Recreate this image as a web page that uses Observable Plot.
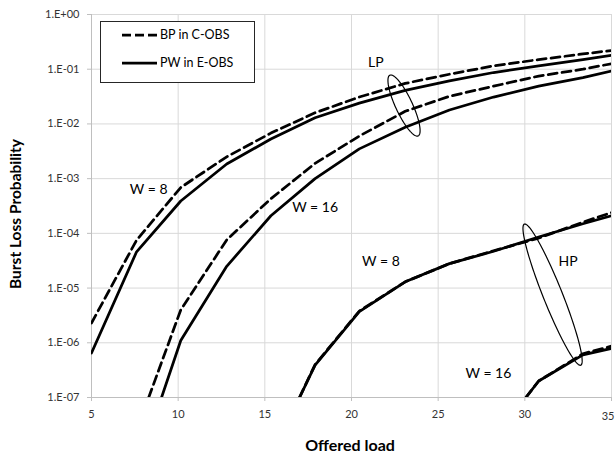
<!DOCTYPE html>
<html><head><meta charset="utf-8">
<script src="https://cdn.jsdelivr.net/npm/d3@7"></script>
<script src="https://cdn.jsdelivr.net/npm/@observablehq/plot@0.6"></script>
<style>
body{margin:0;background:#fff;}
[aria-label^="x-axis"] text,[aria-label^="y-axis"] text{fill:#333;}
[aria-label^="x-axis"] path,[aria-label^="y-axis"] path,[aria-label^="x-axis"] line,[aria-label^="y-axis"] line{stroke:#bfbfbf;}
</style>
</head><body><div id="chart"></div>
<script>
// ---- data ----
const xTicks = [5, 10, 15, 20, 25, 30, 35];
const yTicks = [1e0, 1e-1, 1e-2, 1e-3, 1e-4, 1e-5, 1e-6, 1e-7];

const loadLP8 = [5, 7.6, 10.15, 12.8, 15.35, 17.9, 20.45, 23.1, 25.65, 28.2, 30.8, 33.35, 35];
const bpLP8 = [2.3e-6, 7.5e-5, 6.9e-4, 2.5e-3, 6.8e-3, 0.016, 0.031, 0.055, 0.081, 0.115, 0.15, 0.19, 0.22];
const pwLP8 = [6.5e-7, 4.6e-5, 3.9e-4, 1.85e-3, 5.3e-3, 0.013, 0.024, 0.041, 0.061, 0.087, 0.115, 0.15, 0.18];

const loadBpLP16 = [8.3, 10.15, 12.8, 15.35, 17.9, 20.45, 23.1, 25.65, 28.2, 30.8, 33.35, 35];
const bpLP16 = [1e-7, 4e-6, 7.6e-5, 4.3e-4, 1.9e-3, 6e-3, 0.017, 0.032, 0.049, 0.075, 0.1, 0.126];
const loadPwLP16 = [9.04, 10.15, 12.8, 15.35, 17.9, 20.45, 23.1, 25.65, 28.2, 30.8, 33.35, 35];
const pwLP16 = [1e-7, 1.1e-6, 2.5e-5, 2.1e-4, 1.0e-3, 3.5e-3, 8.7e-3, 0.018, 0.031, 0.049, 0.07, 0.093];

const loadHP8 = [17.0, 17.9, 20.45, 23.1, 25.65, 28.2, 30.8, 33.35, 35];
const bpHP8 = [1e-7, 4.0e-7, 3.8e-6, 1.3e-5, 2.8e-5, 4.8e-5, 8.2e-5, 1.6e-4, 2.4e-4];
const pwHP8 = [1e-7, 3.9e-7, 3.7e-6, 1.3e-5, 2.8e-5, 4.7e-5, 8.6e-5, 1.5e-4, 2.1e-4];

const loadHP16 = [30.06, 30.8, 33.35, 35];
const bpHP16 = [1e-7, 2.0e-7, 6.3e-7, 8.7e-7];
const pwHP16 = [1e-7, 2.0e-7, 6.0e-7, 7.9e-7];

const legendNames = ["BP in C-OBS", "PW in E-OBS"];
const annoText = ["LP", "W = 8", "W = 16", "W = 8", "HP", "W = 16"];
const annoX = [21.4, 8.3, 17.9, 21.7, 32.5, 27.9];
const annoY = [0.132, 6.3e-4, 2.95e-4, 3.1e-5, 3.1e-5, 2.7e-7];

// group ellipses (centre in data units, axes in pixels, tilt in degrees)
const ellipseX = [23.03, 31.6];
const ellipseLogY = [-1.664, -5.12];
const ellipseA = [33.5, 76];
const ellipseB = [8.4, 9.6];
const ellipseTilt = [25, 21.8];

// ---- layout ----
const W = 615, H = 455, mL = 91, mR = 4, mT = 14, mB = 58;
const kx = (W - mL - mR) / (35 - 5);
const ky = (H - mT - mB) / 7;

function series(xs, ys) { return xs.map((x, i) => ({x, y: ys[i]})); }
function ellipse(i) {
  const th = ellipseTilt[i] * Math.PI / 180, pts = [];
  for (let k = 0; k <= 120; k++) {
    const t = k / 120 * 2 * Math.PI;
    const u = ellipseA[i] * Math.cos(t), v = ellipseB[i] * Math.sin(t);
    const dx = u * Math.sin(th) + v * Math.cos(th);
    const dy = u * Math.cos(th) - v * Math.sin(th);
    pts.push({x: ellipseX[i] + dx / kx, y: Math.pow(10, ellipseLogY[i] - dy / ky)});
  }
  return pts;
}
const fmt = d => { const e = Math.round(Math.log10(d)); return "1.E" + (e < 0 ? "-" : "+") + String(Math.abs(e)).padStart(2, "0"); };
const lastX = xTicks[xTicks.length - 1];

const dashed = {x: "x", y: "y", stroke: "#000", strokeWidth: 2.75, strokeDasharray: "9,5", clip: true};
const solid = {x: "x", y: "y", stroke: "#000", strokeWidth: 2.75, clip: true};
const anno = annoText.map((t, i) => ({t, x: annoX[i], y: annoY[i]}));

const plot = Plot.plot({
  width: W, height: H, marginLeft: mL, marginRight: mR, marginTop: mT, marginBottom: mB,
  style: {fontFamily: "Lato, 'Open Sans', sans-serif", fontSize: "11px", background: "#fff", overflow: "visible"},
  x: {domain: [5, 35], ticks: xTicks, tickSize: 4, tickPadding: 9, label: null, tickFormat: d => d === lastX ? "" : String(d)},
  y: {type: "log", domain: [1e-7, 1], ticks: yTicks, tickFormat: fmt, tickSize: 4, tickPadding: 8, label: null},
  marks: [
    Plot.ruleX(xTicks, {stroke: "#d9d9d9", strokeWidth: 1}),
    Plot.ruleY(yTicks, {stroke: "#d9d9d9", strokeWidth: 1}),
    Plot.ruleX([5], {stroke: "#bfbfbf"}),
    Plot.ruleY([1e-7], {stroke: "#bfbfbf"}),
    Plot.line(series(loadLP8, bpLP8), dashed),
    Plot.line(series(loadLP8, pwLP8), solid),
    Plot.line(series(loadBpLP16, bpLP16), dashed),
    Plot.line(series(loadPwLP16, pwLP16), solid),
    Plot.line(series(loadHP8, bpHP8), dashed),
    Plot.line(series(loadHP8, pwHP8), solid),
    Plot.line(series(loadHP16, bpHP16), dashed),
    Plot.line(series(loadHP16, pwHP16), solid),
    Plot.line(ellipse(0), {x: "x", y: "y", stroke: "#000", strokeWidth: 1.2}),
    Plot.line(ellipse(1), {x: "x", y: "y", stroke: "#000", strokeWidth: 1.2}),
    Plot.text(anno, {x: "x", y: "y", text: "t", fill: "#000", fontSize: 14, fontFamily: "Lato, sans-serif"}),
    Plot.text([lastX], {x: d => d, y: () => 1e-7, text: d => String(d), textAnchor: "end", dx: 3, dy: 19, fill: "#333", fontSize: 11})
  ]
});

const svg = d3.select(plot);
// legend
const lg = svg.append("g").attr("text-anchor", "start");
lg.append("rect").attr("x", 100.5).attr("y", 21.5).attr("width", 154).attr("height", 61)
  .attr("fill", "#fff").attr("stroke", "#262626").attr("stroke-width", 1);
lg.append("line").attr("x1", 122).attr("x2", 157).attr("y1", 35).attr("y2", 35)
  .attr("stroke", "#000").attr("stroke-width", 2.75).attr("stroke-dasharray", "9,4");
lg.append("line").attr("x1", 122).attr("x2", 157).attr("y1", 63).attr("y2", 63)
  .attr("stroke", "#000").attr("stroke-width", 2.75);
legendNames.forEach((n, i) => {
  lg.append("text").attr("x", 160).attr("y", 35 + 28 * i).attr("dy", "0.35em").attr("text-anchor", "start")
    .attr("font-size", 12.5).attr("font-family", "Lato, sans-serif").attr("fill", "#000").text(n);
});
// axis titles
svg.append("text").attr("x", 350).attr("y", 445).attr("dy", "0.35em").attr("text-anchor", "middle")
  .attr("font-size", 16).attr("font-weight", "bold").attr("font-family", "Lato, sans-serif").attr("fill", "#000")
  .text("Offered load");
svg.append("text").attr("transform", "translate(16,214) rotate(-90)").attr("dy", "0.35em").attr("text-anchor", "middle")
  .attr("font-size", 15.5).attr("font-weight", "bold").attr("font-family", "Lato, sans-serif").attr("fill", "#000")
  .text("Burst Loss Probability");

document.getElementById("chart").appendChild(plot);
</script>
</body></html>
